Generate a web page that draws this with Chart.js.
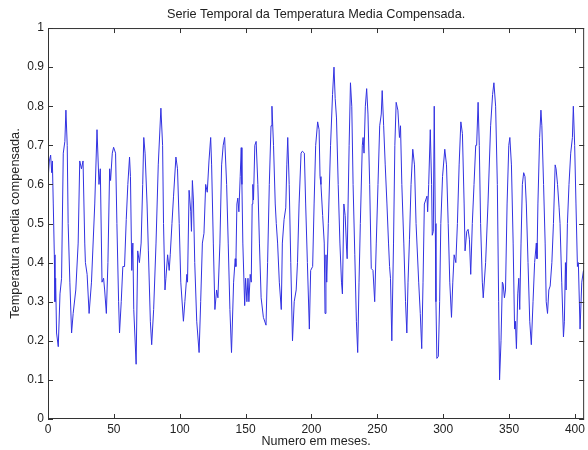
<!DOCTYPE html>
<html>
<head>
<meta charset="utf-8">
<script src="https://cdn.jsdelivr.net/npm/chart.js@4/dist/chart.umd.min.js"></script>
<style>
    html, body { margin: 0; padding: 0; background: #fff; overflow: hidden; }
    canvas { display: block; }
</style>
</head>
<body>
<canvas id="serieChart" width="588" height="450"></canvas>
<script>
// Months (x) and compensated mean temperature (y)
const months = [
    0.2, 1.0, 2.0, 2.8, 3.3, 4.0, 4.8, 5.3, 5.8, 6.5, 7.8, 9.1, 10.3, 11.6, 12.8, 13.6, 14.6, 15.3, 16.6, 17.9,
    19.1, 21.1, 22.9, 24.1, 25.4, 26.6, 27.9, 28.4, 29.7, 31.2, 33.0, 35.5, 37.2, 38.7, 39.7, 41.0, 42.2, 43.0, 44.3, 45.5,
    46.8, 47.5, 48.8, 49.8, 51.3, 52.3, 53.6, 54.3, 55.6, 56.8, 58.1, 59.4, 60.6, 61.9, 62.6, 63.6, 64.4, 65.1, 66.9, 68.1,
    69.4, 70.7, 71.9, 72.7, 73.7, 75.2, 76.2, 77.7, 78.7, 80.2, 82.0, 83.7, 85.7, 87.0, 87.7, 88.8, 89.5, 90.8, 92.0, 92.8,
    94.1, 95.3, 97.1, 98.3, 99.6, 100.8, 102.8, 103.9, 105.4, 105.9, 107.1, 108.4, 108.9, 109.6, 110.4, 111.4, 112.9, 114.7, 115.9, 117.2,
    118.4, 119.7, 120.9, 122.2, 123.5, 124.2, 125.5, 126.7, 128.0, 129.0, 130.5, 131.8, 133.0, 134.1, 135.6, 136.8, 138.1, 139.3, 140.9, 142.1,
    142.6, 143.4, 144.1, 144.9, 145.9, 146.7, 147.2, 147.9, 149.3, 150.0, 151.0, 151.8, 152.5, 153.5, 154.3, 155.0, 155.5, 156.0, 157.0, 158.0,
    159.3, 160.5, 161.8, 163.5, 165.5, 166.7, 168.0, 169.3, 170.0, 171.2, 172.5, 173.3, 174.3, 175.6, 177.1, 177.9, 179.2, 180.5, 181.3, 182.0,
    183.1, 184.3, 185.6, 186.9, 188.4, 189.4, 190.6, 192.1, 193.1, 194.6, 195.6, 196.9, 198.4, 199.4, 200.9, 202.0, 203.2, 204.7, 205.8, 206.5,
    207.2, 208.5, 209.7, 210.3, 211.0, 211.6, 212.8, 214.5, 216.0, 217.1, 218.0, 219.0, 220.3, 221.6, 222.8, 223.5, 224.6, 225.6, 226.6, 227.1,
    227.8, 228.6, 229.6, 230.6, 231.6, 232.9, 234.1, 235.1, 236.1, 237.1, 238.6, 239.2, 239.9, 240.9, 241.9, 242.9, 244.2, 245.4, 246.7, 248.0,
    249.2, 250.5, 251.8, 253.0, 253.7, 254.8, 256.0, 257.3, 258.5, 259.3, 260.0, 261.0, 262.3, 263.3, 264.3, 265.6, 266.8, 267.6, 268.6, 270.1,
    271.4, 272.4, 273.3, 274.4, 275.6, 276.9, 278.2, 279.4, 281.4, 282.6, 283.7, 284.7, 285.7, 287.7, 288.2, 289.0, 290.2, 291.2, 291.7, 292.5,
    293.2, 294.0, 294.5, 295.2, 296.3, 297.3, 298.2, 299.5, 301.2, 302.5, 303.8, 305.0, 306.3, 307.3, 308.3, 309.6, 310.8, 312.1, 313.4, 314.6,
    315.9, 316.6, 317.9, 318.9, 319.9, 320.9, 322.1, 323.4, 324.7, 325.4, 326.5, 327.4, 328.4, 329.7, 330.4, 332.2, 334.0, 336.0, 337.5, 338.5,
    339.8, 341.1, 342.1, 342.8, 343.9, 344.9, 345.5, 346.5, 347.3, 348.5, 349.8, 350.6, 351.8, 353.1, 354.2, 354.8, 355.6, 356.6, 357.4, 358.1,
    359.1, 360.1, 361.1, 362.1, 363.1, 364.4, 365.7, 366.9, 368.2, 369.4, 370.7, 371.2, 371.9, 373.2, 374.2, 374.9, 376.2, 377.4, 378.2, 379.2,
    380.2, 381.2, 382.5, 383.7, 385.0, 385.7, 386.8, 388.0, 388.7, 390.0, 391.3, 392.0, 392.8, 393.3, 394.3, 395.5, 396.8, 398.1, 398.8, 399.8,
    400.8, 401.9, 402.6, 403.9, 405.2, 406.5
];

const temps = [
    0.62, 0.66, 0.675, 0.63, 0.66, 0.55, 0.42, 0.30, 0.36, 0.22, 0.185, 0.32, 0.36, 0.68, 0.71, 0.79, 0.70, 0.50, 0.35, 0.22,
    0.27, 0.33, 0.45, 0.66, 0.64, 0.66, 0.45, 0.40, 0.37, 0.27, 0.35, 0.55, 0.74, 0.60, 0.64, 0.35, 0.36, 0.33, 0.27, 0.40,
    0.64, 0.61, 0.68, 0.695, 0.68, 0.50, 0.30, 0.22, 0.30, 0.39, 0.39, 0.51, 0.60, 0.67, 0.62, 0.38, 0.45, 0.28, 0.14, 0.43,
    0.40, 0.45, 0.60, 0.72, 0.68, 0.55, 0.43, 0.25, 0.19, 0.28, 0.45, 0.65, 0.795, 0.70, 0.50, 0.33, 0.36, 0.42, 0.38, 0.42,
    0.50, 0.57, 0.67, 0.64, 0.50, 0.35, 0.25, 0.30, 0.37, 0.35, 0.585, 0.53, 0.48, 0.61, 0.56, 0.40, 0.25, 0.17, 0.30, 0.45,
    0.475, 0.60, 0.58, 0.66, 0.72, 0.65, 0.45, 0.28, 0.33, 0.31, 0.45, 0.65, 0.70, 0.72, 0.60, 0.45, 0.28, 0.17, 0.35, 0.41,
    0.39, 0.55, 0.565, 0.53, 0.62, 0.694, 0.60, 0.45, 0.29, 0.36, 0.30, 0.36, 0.30, 0.37, 0.35, 0.55, 0.60, 0.56, 0.70, 0.71,
    0.60, 0.45, 0.31, 0.26, 0.24, 0.40, 0.60, 0.75, 0.80, 0.70, 0.55, 0.50, 0.45, 0.35, 0.28, 0.45, 0.51, 0.54, 0.65, 0.72,
    0.60, 0.40, 0.20, 0.30, 0.33, 0.40, 0.55, 0.68, 0.685, 0.68, 0.55, 0.40, 0.23, 0.38, 0.39, 0.55, 0.70, 0.76, 0.74, 0.62,
    0.60, 0.52, 0.45, 0.27, 0.42, 0.35, 0.50, 0.70, 0.83, 0.90, 0.82, 0.77, 0.60, 0.45, 0.35, 0.32, 0.55, 0.52, 0.44, 0.41,
    0.55, 0.70, 0.86, 0.80, 0.60, 0.42, 0.25, 0.17, 0.35, 0.50, 0.70, 0.72, 0.68, 0.80, 0.845, 0.78, 0.60, 0.385, 0.38, 0.30,
    0.45, 0.60, 0.75, 0.78, 0.84, 0.75, 0.65, 0.55, 0.45, 0.39, 0.36, 0.20, 0.45, 0.70, 0.81, 0.79, 0.72, 0.75, 0.60, 0.45,
    0.30, 0.22, 0.35, 0.46, 0.60, 0.69, 0.65, 0.50, 0.35, 0.27, 0.18, 0.35, 0.55, 0.57, 0.53, 0.60, 0.74, 0.60, 0.47, 0.48,
    0.80, 0.50, 0.30, 0.155, 0.16, 0.30, 0.50, 0.62, 0.69, 0.65, 0.50, 0.35, 0.26, 0.35, 0.42, 0.40, 0.50, 0.65, 0.76, 0.73,
    0.55, 0.43, 0.48, 0.485, 0.46, 0.37, 0.50, 0.60, 0.70, 0.70, 0.81, 0.70, 0.50, 0.35, 0.31, 0.40, 0.55, 0.75, 0.83, 0.86,
    0.80, 0.60, 0.30, 0.10, 0.20, 0.35, 0.345, 0.31, 0.33, 0.55, 0.70, 0.72, 0.65, 0.45, 0.23, 0.25, 0.18, 0.32, 0.36, 0.28,
    0.45, 0.60, 0.63, 0.62, 0.55, 0.40, 0.25, 0.19, 0.30, 0.40, 0.45, 0.41, 0.55, 0.72, 0.79, 0.75, 0.60, 0.45, 0.30, 0.27,
    0.33, 0.34, 0.40, 0.50, 0.65, 0.64, 0.60, 0.54, 0.50, 0.35, 0.21, 0.25, 0.40, 0.33, 0.50, 0.60, 0.68, 0.72, 0.80, 0.70,
    0.55, 0.39, 0.40, 0.23, 0.35, 0.38
];

const xTicks = [0, 50, 100, 150, 200, 250, 300, 350, 400];
const yTicks = [0, 0.1, 0.2, 0.3, 0.4, 0.5, 0.6, 0.7, 0.8, 0.9, 1];

const fontFamily = "'Liberation Sans', Arial, Helvetica, sans-serif";
const tickFont = { family: fontFamily, size: 12 };

// Matlab style axes box with inward tick marks on all four sides
const boxPlugin = {
    id: 'matlabBox',
    afterDatasetsDraw(chart) {
        const { ctx, chartArea: a, scales } = chart;
        const len = 5;
        ctx.save();
        ctx.strokeStyle = '#333';
        ctx.lineWidth = 1;
        ctx.strokeRect(a.left + 0.5, a.top + 0.5, a.right - a.left - 1, a.bottom - a.top - 1);
        ctx.beginPath();
        xTicks.forEach(v => {
            const px = Math.round(scales.x.getPixelForValue(v)) + 0.5;
            ctx.moveTo(px, a.bottom);
            ctx.lineTo(px, a.bottom - len);
            ctx.moveTo(px, a.top);
            ctx.lineTo(px, a.top + len);
        });
        yTicks.forEach(v => {
            const py = Math.round(scales.y.getPixelForValue(v)) + 0.5;
            ctx.moveTo(a.left, py);
            ctx.lineTo(a.left + len, py);
            ctx.moveTo(a.right, py);
            ctx.lineTo(a.right - len, py);
        });
        ctx.stroke();
        ctx.restore();
    }
};

function drawSerie() {
    const ctx = document.getElementById('serieChart').getContext('2d');

    new Chart(ctx, {
        type: 'line',
        data: {
            datasets: [{
                data: months.map((m, i) => ({ x: m, y: temps[i] })),
                borderColor: 'rgb(50, 50, 225)',
                borderWidth: 1,
                pointRadius: 0,
                tension: 0,
                fill: false
            }]
        },
        options: {
            responsive: false,
            animation: false,
            devicePixelRatio: 1,
            layout: { padding: { right: 1 } },
            plugins: {
                legend: { display: false },
                tooltip: { enabled: false },
                title: {
                    display: true,
                    fullSize: false,
                    text: 'Serie Temporal da Temperatura Media Compensada.',
                    color: '#222',
                    font: { family: fontFamily, size: 12.7, weight: 'normal' },
                    padding: { top: 6.5, bottom: 6.3 }
                }
            },
            scales: {
                x: {
                    type: 'linear',
                    min: 0,
                    max: 407,
                    afterBuildTicks: scale => { scale.ticks = xTicks.map(v => ({ value: v })); },
                    afterFit: scale => { scale.height = 31; },
                    grid: { display: false, drawTicks: false },
                    border: { display: false },
                    ticks: { color: '#222', font: tickFont, padding: 3, maxRotation: 0 },
                    title: {
                        display: true,
                        text: 'Numero em meses.',
                        color: '#222',
                        font: { family: fontFamily, size: 12.5 },
                        padding: { top: 0, bottom: 1 }
                    }
                },
                y: {
                    min: 0,
                    max: 1,
                    afterBuildTicks: scale => { scale.ticks = yTicks.map(v => ({ value: v })); },
                    afterFit: scale => { scale.width = 48; },
                    grid: { display: false, drawTicks: false },
                    border: { display: false },
                    ticks: {
                        color: '#222',
                        font: tickFont,
                        padding: 4,
                        callback: v => String(+v.toFixed(1))
                    },
                    title: {
                        display: true,
                        text: 'Temperatura media compensada.',
                        color: '#222',
                        font: { family: fontFamily, size: 12.8 },
                        padding: { top: 7.5, bottom: 0 }
                    }
                }
            }
        },
        plugins: [boxPlugin]
    });
}

document.addEventListener('DOMContentLoaded', drawSerie);
</script>
</body>
</html>
